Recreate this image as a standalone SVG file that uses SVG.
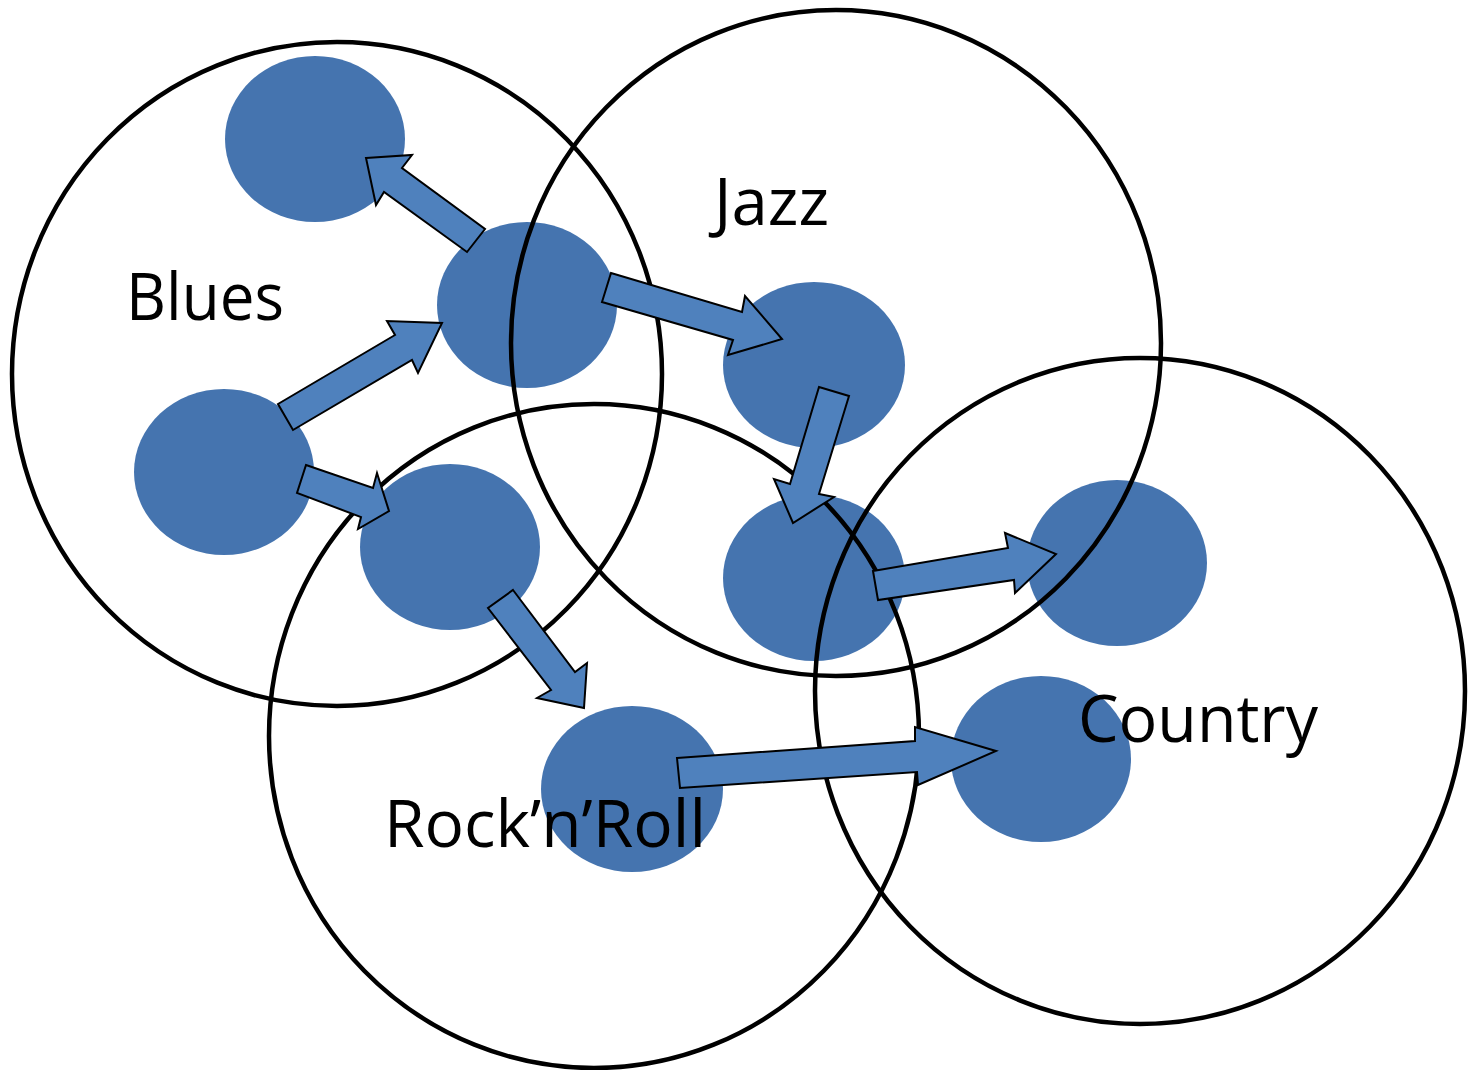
<svg xmlns="http://www.w3.org/2000/svg" width="1473" height="1070" viewBox="0 0 1473 1070">
<style>
.dot{fill:#4574AF;stroke:none}
.ring{fill:none;stroke:#000;stroke-width:4.5}
.lbl{font-family:"Open Sans","Liberation Sans",sans-serif;font-size:66px;fill:#000}
.arr{fill:#4F81BD;stroke:#000;stroke-width:2;stroke-linejoin:miter}
</style>
<rect width="1473" height="1070" fill="#fff"/>
<g id="dots">
<ellipse id="d1" class="dot" cx="315" cy="139" rx="90" ry="83"/>
<ellipse id="d2" class="dot" cx="527" cy="305" rx="90" ry="83"/>
<ellipse id="d3" class="dot" cx="224" cy="472" rx="90" ry="83"/>
<ellipse id="d4" class="dot" cx="450" cy="547" rx="90" ry="83"/>
<ellipse id="d5" class="dot" cx="632" cy="789" rx="91" ry="83"/>
<ellipse id="d6" class="dot" cx="814" cy="365" rx="91" ry="83"/>
<ellipse id="d7" class="dot" cx="814" cy="578" rx="91" ry="83"/>
<ellipse id="d8" class="dot" cx="1117" cy="563" rx="90" ry="83"/>
<ellipse id="d9" class="dot" cx="1041" cy="759" rx="90" ry="83"/>
</g>
<g id="blues">
<ellipse class="ring" cx="337" cy="374" rx="325" ry="332"/>
<text class="lbl" x="126" y="320" textLength="158" lengthAdjust="spacingAndGlyphs">Blues</text>
</g>
<g id="jazz">
<ellipse class="ring" cx="836" cy="343" rx="325" ry="333"/>
<text class="lbl" x="714" y="225" textLength="115" lengthAdjust="spacingAndGlyphs">Jazz</text>
</g>
<g id="rock">
<ellipse class="ring" cx="594" cy="736" rx="325" ry="332"/>
<text class="lbl" x="384" y="847" textLength="322" lengthAdjust="spacingAndGlyphs">Rock’n’Roll</text>
</g>
<g id="country">
<ellipse class="ring" cx="1140" cy="691" rx="325" ry="333"/>
<text class="lbl" x="1078" y="742" textLength="240" lengthAdjust="spacingAndGlyphs">Country</text>
</g>
<g id="connectors">
<polygon class="arr" points="366,158 412,155 402,168 485,229 467,252 384,192 376,205"/>
<polygon class="arr" points="611,273 742,312 745,296 782,339 728,355 733,340 602,302"/>
<polygon class="arr" points="278,404 395,335 387,321 442,323 418,373 412,360 293,430"/>
<polygon class="arr" points="306,465 373,488 377,473 389,511 358,529 361,517 297,493"/>
<polygon class="arr" points="513,590 575,672 587,663 584,708 537,698 551,690 488,608"/>
<polygon class="arr" points="819,387 849,396 819,494 834,497 793,523 774,479 790,484"/>
<polygon class="arr" points="873,571 1008,548 1005,533 1056,554 1015,593 1014,580 878,600"/>
<polygon class="arr" points="677,758 915,741 915,727 996,751 918,785 917,772 680,788"/>
</g>
</svg>
